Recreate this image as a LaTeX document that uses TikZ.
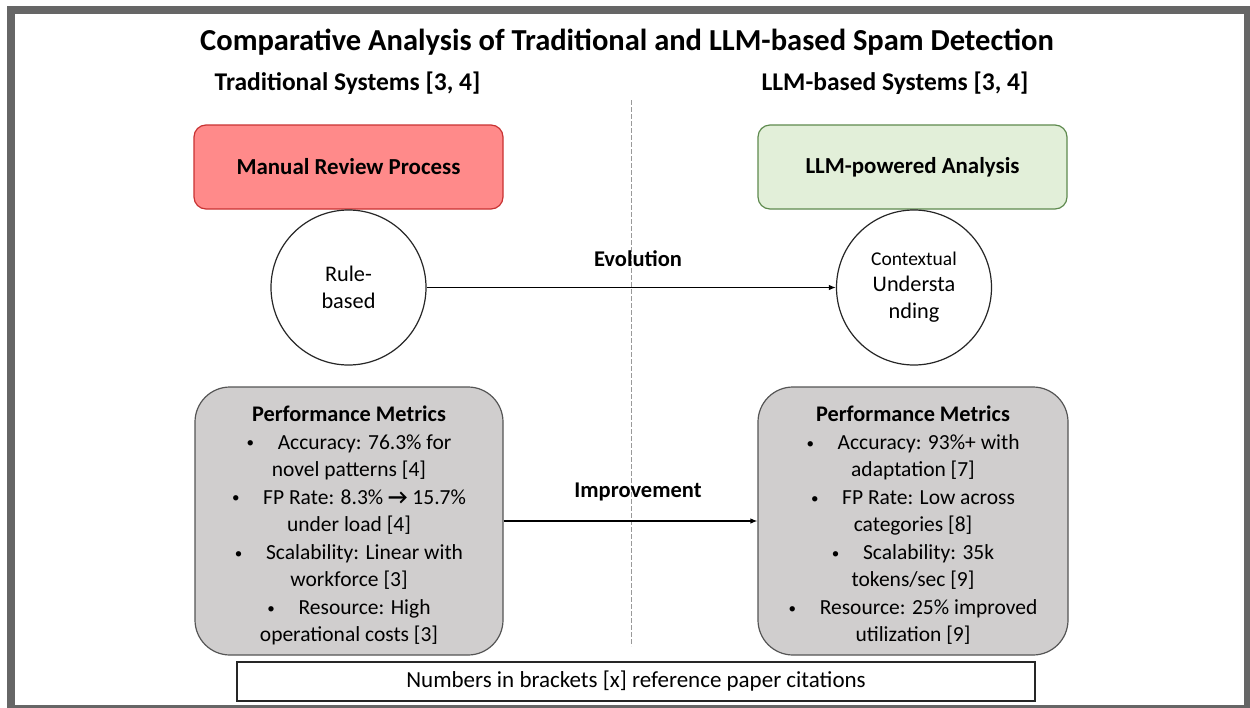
\documentclass[tikz,border=0pt]{standalone}
\usepackage{fontspec}
\usepackage{graphicx}
\setmainfont{Carlito}
\usetikzlibrary{arrows.meta}
\definecolor{redfill}{HTML}{FF8A8A}
\definecolor{redline}{HTML}{C83232}
\definecolor{greenfill}{HTML}{E2EFD9}
\definecolor{greenline}{HTML}{5E8A4E}
\definecolor{grayfill}{HTML}{D0CECE}
\definecolor{grayline}{HTML}{555555}
\definecolor{framegray}{HTML}{666666}
\tikzset{
  hdrbox/.style={rounded corners=12pt, line width=1.2pt, minimum width=309pt, minimum height=84pt,
    font=\fontsize{22.9}{27}\selectfont\bfseries, inner sep=0pt},
  circ/.style={circle, draw=black!85, line width=1.2pt, minimum size=155pt, inner sep=0pt, align=center,
    font=\fontsize{22.3}{27}\selectfont},
  metricbox/.style={rounded corners=35pt, draw=grayline, fill=grayfill, line width=1.2pt,
    minimum height=268pt, inner sep=0pt, align=center, font=\fontsize{21.5}{27.5}\selectfont},
  arr/.style={-{Latex[length=7pt,width=5.5pt]}, line width=1.2pt, black},
  lbl/.style={font=\fontsize{22.5}{26}\selectfont\bfseries, inner sep=0pt},
  sub/.style={font=\fontsize{25.5}{30}\selectfont\bfseries, inner sep=0pt},
}
\newcommand{\bul}{\raisebox{0.1ex}{\scalebox{0.7}{\textbullet}}\hspace{1.1em}}
\newcommand{\mhead}[1]{\rule{0pt}{24.5pt}{\fontsize{22.3}{27.5}\selectfont\bfseries #1}}
\begin{document}
\begin{tikzpicture}[x=1pt,y=-1pt]
\useasboundingbox (0,0) rectangle (1250,707);
\fill[white] (0,0) rectangle (1250,707);
\draw[framegray, line width=8pt] (11,10) rectangle (1248,709);

\node[font=\fontsize{30.5}{34}\selectfont\bfseries, inner sep=0pt] (title) at (627,42)
  {Comparative Analysis of Traditional and LLM-based Spam Detection};
\node[sub] (subT) at (347.5,83) {Traditional Systems [3, 4]};
\node[sub] (subL) at (895,83) {LLM-based Systems [3, 4]};

\coordinate (dtop) at (631,100);
\coordinate (dbot) at (631,646);
\draw[black!40, line width=1pt, dash pattern=on 5pt off 2pt] (dtop) -- (dbot);

\node[hdrbox, fill=redfill, draw=redline] (manual) at (348.5,167) {Manual Review Process};
\node[hdrbox, fill=greenfill, draw=greenline] (llm) at (912.5,167) {LLM-powered Analysis};

\node[circ] (rule) at (348.5,287.5) {Rule-\\based};
\node[circ] (ctx) at (914,287.5) {{\fontsize{19.5}{22}\selectfont Contextual}\\[-1pt]Understa\\nding};

\draw[arr] (rule.east) -- (ctx.west);
\node[lbl] (evo) at (638,259) {Evolution};

\node[metricbox, minimum width=308pt] (trad) at (349,521)
  {\mhead{Performance Metrics}\\
   \bul Accuracy: 76.3\% for\\
   novel patterns [4]\\
   \bul FP Rate: 8.3\% \textbf{→} 15.7\%\\
   under load [4]\\
   \bul Scalability: Linear with\\
   workforce [3]\\
   \bul Resource: High\\
   operational costs [3]};
\node[metricbox, minimum width=310pt] (llmm) at (913,521)
  {\mhead{Performance Metrics}\\
   \bul Accuracy: 93\%+ with\\
   adaptation [7]\\
   \bul FP Rate: Low across\\
   categories [8]\\
   \bul Scalability: 35k\\
   tokens/sec [9]\\
   \bul Resource: 25\% improved\\
   utilization [9]};

\draw[arr] (trad.east) -- (llmm.west);
\node[lbl] (imp) at (638,492) {Improvement};

\node[draw=black!85, line width=1.2pt, minimum width=798pt, minimum height=39pt, inner sep=0pt,
  font=\fontsize{23}{27}\selectfont] (note) at (636,681.5) {Numbers in brackets [x] reference paper citations};
\end{tikzpicture}
\end{document}
